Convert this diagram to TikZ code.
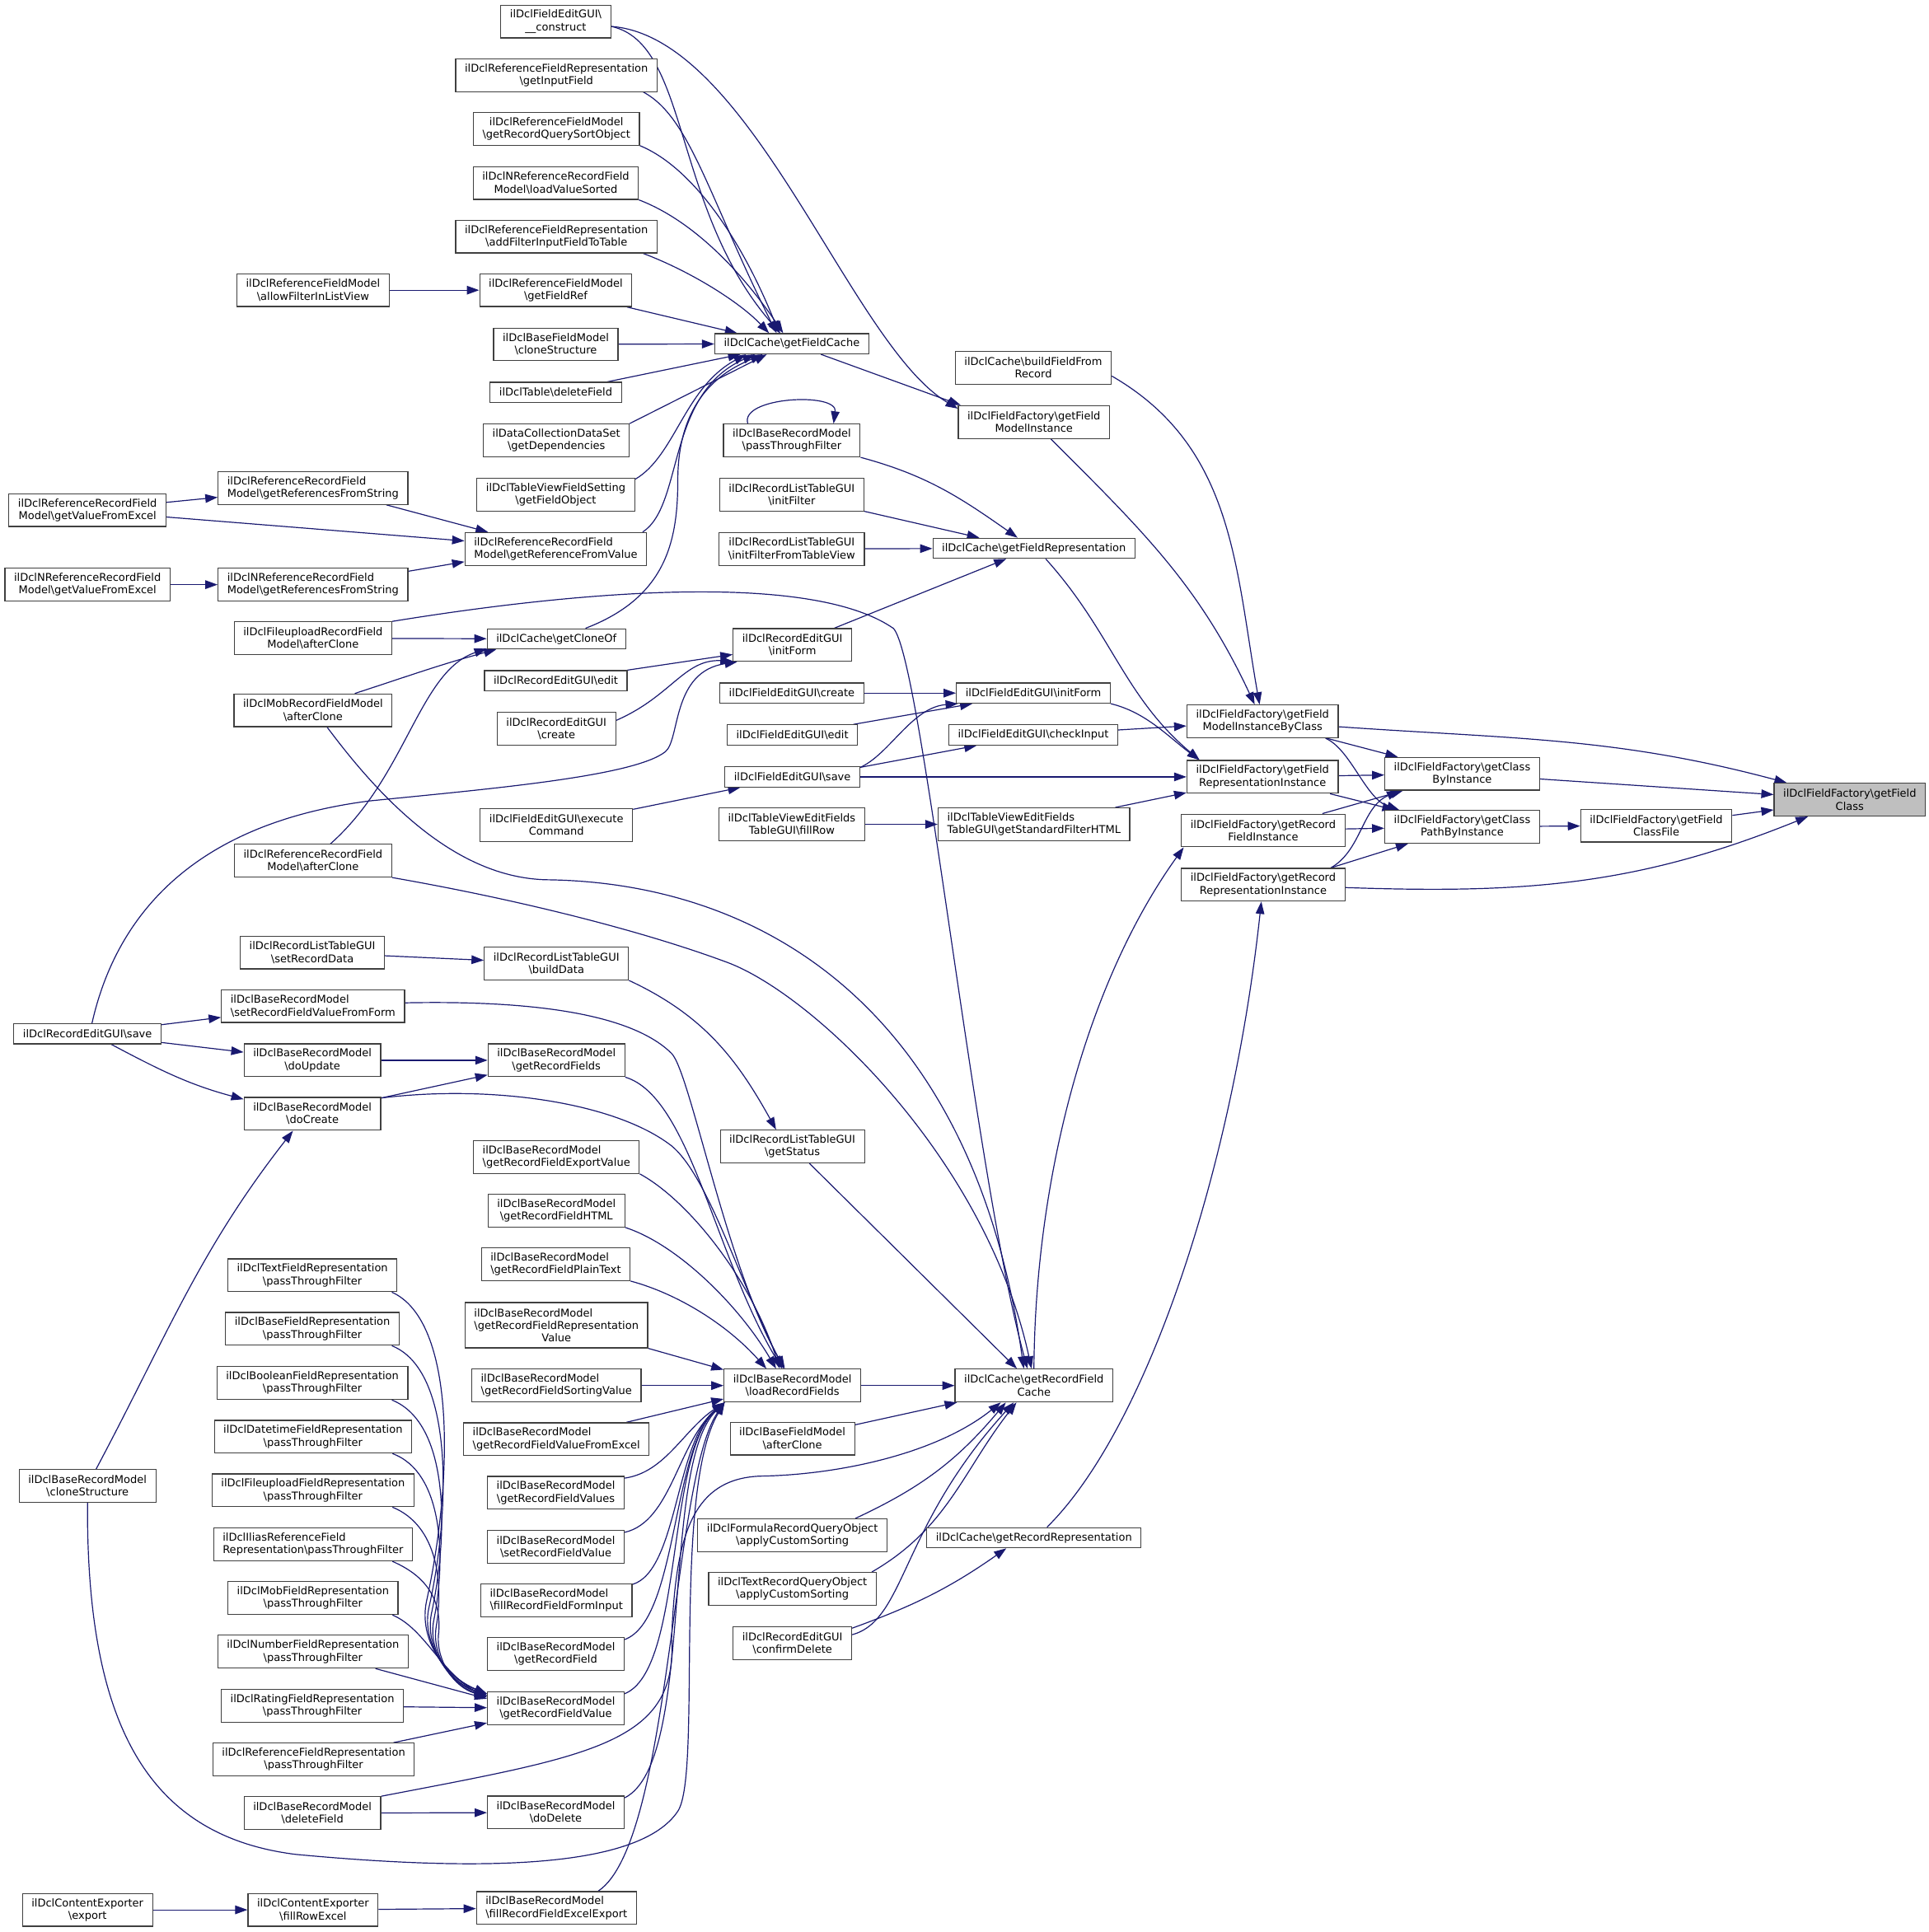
\documentclass[tikz,border=0pt]{standalone}
\usepackage{fontspec}
\setmainfont{DejaVu Sans}
\usetikzlibrary{arrows.meta,backgrounds}

\definecolor{edgeblue}{RGB}{25,25,112}
\definecolor{boxgray}{RGB}{64,64,64}
\definecolor{rootgray}{RGB}{191,191,191}
\newcommand*{\bs}{\textbackslash}

\begin{document}
\begin{tikzpicture}
[
	x=1pt, y=1pt,
	fn/.style={draw=boxgray,fill=white,line width=0.8pt,align=center,inner xsep=7.4pt,inner ysep=1pt,minimum height=26.6pt,font=\fontsize{8.7}{10.2}\selectfont},
	fnl/.style={fn,align=left},
	single/.style={minimum height=16.4pt},
	triple/.style={minimum height=36.8pt},
	root/.style={fn,fill=rootgray},
	call/.style={draw=edgeblue,line width=0.8pt,-{Triangle[length=10pt,width=7pt]}}
]
	\useasboundingbox (0,0) rectangle (1565,-1568);

	% callers of getFieldCache
	\node[fn] (fegConstruct) at (451,-17.5) {ilDclFieldEditGUI\bs\\\_\_construct};
	\node[fn] (rfrInput) at (451.5,-61) {ilDclReferenceFieldRepresentation\\\bs getInputField};
	\node[fn] (rfmSort) at (451.5,-104.5) {ilDclReferenceFieldModel\\\bs getRecordQuerySortObject};
	\node[fn] (nrrLoad) at (451,-148.5) {ilDclNReferenceRecordField\\Model\bs loadValueSorted};
	\node[fn] (rfrFilter) at (451.5,-192) {ilDclReferenceFieldRepresentation\\\bs addFilterInputFieldToTable};
	\node[fn] (rfmRef) at (451,-235.5) {ilDclReferenceFieldModel\\\bs getFieldRef};
	\node[fn] (rfmAllow) at (254,-235.5) {ilDclReferenceFieldModel\\\bs allowFilterInListView};
	\node[fn] (bfmClone) at (451,-279.5) {ilDclBaseFieldModel\\\bs cloneStructure};
	\node[fn,single] (tblDelete) at (451,-318.5) {ilDclTable\bs deleteField};
	\node[fn] (dcdsDeps) at (451.5,-357.5) {ilDataCollectionDataSet\\\bs getDependencies};
	\node[fn] (tvfsObj) at (451,-401.5) {ilDclTableViewFieldSetting\\\bs getFieldObject};
	\node[fnl] (rrfFromValue) at (451,-445.5) {ilDclReferenceRecordField\\Model\bs getReferenceFromValue};
	\node[fnl] (rrfFromString) at (254,-396) {ilDclReferenceRecordField\\Model\bs getReferencesFromString};
	\node[fn] (rrfExcel) at (71,-414) {ilDclReferenceRecordField\\Model\bs getValueFromExcel};
	\node[fnl] (nrrFromString) at (254,-474.5) {ilDclNReferenceRecordField\\Model\bs getReferencesFromString};
	\node[fn] (nrrExcel) at (71,-474.5) {ilDclNReferenceRecordField\\Model\bs getValueFromExcel};
	\node[fn] (furfClone) at (254,-518) {ilDclFileuploadRecordField\\Model\bs afterClone};
	\node[fn,single] (cacheCloneOf) at (451.5,-518.5) {ilDclCache\bs getCloneOf};
	\node[fn] (mobClone) at (254,-576.5) {ilDclMobRecordFieldModel\\\bs afterClone};
	\node[fn,single] (regEdit) at (451,-552.5) {ilDclRecordEditGUI\bs edit};
	\node[fn] (regCreate) at (451.5,-591.5) {ilDclRecordEditGUI\\\bs create};
	\node[fn] (fegExec) at (451.5,-669.5) {ilDclFieldEditGUI\bs execute\\Command};
	\node[fn] (rrfClone) at (254,-698.5) {ilDclReferenceRecordField\\Model\bs afterClone};

	% record model
	\node[fn] (rltSetData) at (253.5,-773) {ilDclRecordListTableGUI\\\bs setRecordData};
	\node[fn] (rltBuild) at (451.5,-782) {ilDclRecordListTableGUI\\\bs buildData};
	\node[fnl] (brmSetFromForm) at (254,-816.5) {ilDclBaseRecordModel\\\bs setRecordFieldValueFromForm};
	\node[fn,single] (regSave) at (71,-839) {ilDclRecordEditGUI\bs save};
	\node[fn] (brmUpdate) at (253.5,-860.5) {ilDclBaseRecordModel\\\bs doUpdate};
	\node[fn] (brmFields) at (451.5,-860.5) {ilDclBaseRecordModel\\\bs getRecordFields};
	\node[fn] (brmCreate) at (253.5,-904) {ilDclBaseRecordModel\\\bs doCreate};
	\node[fnl] (brmExport) at (451.5,-939) {ilDclBaseRecordModel\\\bs getRecordFieldExportValue};
	\node[fn] (brmHTML) at (451.5,-982.5) {ilDclBaseRecordModel\\\bs getRecordFieldHTML};
	\node[fnl] (brmPlain) at (451,-1026) {ilDclBaseRecordModel\\\bs getRecordFieldPlainText};
	\node[fn,triple] (brmReprValue) at (451.5,-1075.5) {\begin{tabular}[b]{@{}l@{}}ilDclBaseRecordModel\\\bs getRecordFieldRepresentation\end{tabular}\\Value};
	\node[fnl] (brmSorting) at (451.5,-1124.5) {ilDclBaseRecordModel\\\bs getRecordFieldSortingValue};
	\node[fnl] (brmValFromExcel) at (451.5,-1168) {ilDclBaseRecordModel\\\bs getRecordFieldValueFromExcel};
	\node[fn] (brmValues) at (451,-1211.5) {ilDclBaseRecordModel\\\bs getRecordFieldValues};
	\node[fn] (brmSetValue) at (451,-1255.5) {ilDclBaseRecordModel\\\bs setRecordFieldValue};
	\node[fnl] (brmFormInput) at (451.5,-1299) {ilDclBaseRecordModel\\\bs fillRecordFieldFormInput};
	\node[fn] (brmField) at (451,-1342.5) {ilDclBaseRecordModel\\\bs getRecordField};
	\node[fn] (brmValue) at (451,-1386.5) {ilDclBaseRecordModel\\\bs getRecordFieldValue};
	\node[fn] (brmDelete) at (451,-1471) {ilDclBaseRecordModel\\\bs doDelete};
	\node[fnl] (brmExcelExport) at (451.5,-1548.5) {ilDclBaseRecordModel\\\bs fillRecordFieldExcelExport};
	\node[fn] (brmCloneStr) at (71,-1206) {ilDclBaseRecordModel\\\bs cloneStructure};

	% passThroughFilter column
	\node[fn] (tfrPass) at (253.5,-1035) {ilDclTextFieldRepresentation\\\bs passThroughFilter};
	\node[fn] (bfrPass) at (253.5,-1078.5) {ilDclBaseFieldRepresentation\\\bs passThroughFilter};
	\node[fn] (boolPass) at (253.5,-1122.5) {ilDclBooleanFieldRepresentation\\\bs passThroughFilter};
	\node[fn] (dtPass) at (254,-1166) {ilDclDatetimeFieldRepresentation\\\bs passThroughFilter};
	\node[fn] (fuPass) at (254,-1209.5) {ilDclFileuploadFieldRepresentation\\\bs passThroughFilter};
	\node[fnl] (ilPass) at (254,-1253.5) {ilDclIliasReferenceField\\Representation\bs passThroughFilter};
	\node[fn] (mobPass) at (254,-1297) {ilDclMobFieldRepresentation\\\bs passThroughFilter};
	\node[fn] (numPass) at (254,-1340.5) {ilDclNumberFieldRepresentation\\\bs passThroughFilter};
	\node[fn] (ratPass) at (253.5,-1384.5) {ilDclRatingFieldRepresentation\\\bs passThroughFilter};
	\node[fn] (refPass) at (254.5,-1428) {ilDclReferenceFieldRepresentation\\\bs passThroughFilter};
	\node[fn] (brmDelField) at (253.5,-1471.5) {ilDclBaseRecordModel\\\bs deleteField};
	\node[fn] (ceFillRow) at (254,-1550) {ilDclContentExporter\\\bs fillRowExcel};
	\node[fn] (ceExport) at (71,-1550) {ilDclContentExporter\\\bs export};

	% middle column
	\node[fn,single] (cacheFieldCache) at (642.5,-279) {ilDclCache\bs getFieldCache};
	\node[fn] (brmPass) at (642.5,-357.5) {ilDclBaseRecordModel\\\bs passThroughFilter};
	\node[fn] (rltFilter) at (642.5,-401.5) {ilDclRecordListTableGUI\\\bs initFilter};
	\node[fn] (rltFilterTV) at (642.5,-445.5) {ilDclRecordListTableGUI\\\bs initFilterFromTableView};
	\node[fn] (regInitForm) at (643,-523.5) {ilDclRecordEditGUI\\\bs initForm};
	\node[fn,single] (fegCreate) at (642.5,-562.5) {ilDclFieldEditGUI\bs create};
	\node[fn,single] (fegEdit) at (643,-596.5) {ilDclFieldEditGUI\bs edit};
	\node[fn,single] (fegSave) at (643,-630.5) {ilDclFieldEditGUI\bs save};
	\node[fn] (tvefFillRow) at (642.5,-669) {ilDclTableViewEditFields\\TableGUI\bs fillRow};
	\node[fn] (rltStatus) at (643,-930.5) {ilDclRecordListTableGUI\\\bs getStatus};
	\node[fn] (brmLoad) at (643,-1124.5) {ilDclBaseRecordModel\\\bs loadRecordFields};
	\node[fn] (bfmAfterClone) at (643,-1167.5) {ilDclBaseFieldModel\\\bs afterClone};
	\node[fn] (frqoSort) at (643,-1246) {ilDclFormulaRecordQueryObject\\\bs applyCustomSorting};
	\node[fn] (trqoSort) at (643,-1289.5) {ilDclTextRecordQueryObject\\\bs applyCustomSorting};
	\node[fn] (regConfirm) at (643,-1333.5) {ilDclRecordEditGUI\\\bs confirmDelete};

	% cache and factory
	\node[fn] (cacheBuild) at (838.5,-298.5) {ilDclCache\bs buildFieldFrom\\Record};
	\node[fn] (ffModelInst) at (839,-342.5) {ilDclFieldFactory\bs getField\\ModelInstance};
	\node[fn,single] (cacheFieldRepr) at (839,-445) {ilDclCache\bs getFieldRepresentation};
	\node[fn,single] (fegInitForm) at (838.5,-562.5) {ilDclFieldEditGUI\bs initForm};
	\node[fn,single] (fegCheck) at (838.5,-596.5) {ilDclFieldEditGUI\bs checkInput};
	\node[fnl] (tvefFilterHTML) at (839,-669) {ilDclTableViewEditFields\\TableGUI\bs getStandardFilterHTML};
	\node[fn] (cacheRecFieldCache) at (839,-1124.5) {ilDclCache\bs getRecordField\\Cache};
	\node[fn,single] (cacheRecRepr) at (839,-1248) {ilDclCache\bs getRecordRepresentation};

	\node[fn] (ffModelByClass) at (1024.5,-585.5) {ilDclFieldFactory\bs getField\\ModelInstanceByClass};
	\node[fn] (ffFieldRepr) at (1024.5,-630.5) {ilDclFieldFactory\bs getField\\RepresentationInstance};
	\node[fn] (ffRecField) at (1025,-674) {ilDclFieldFactory\bs getRecord\\FieldInstance};
	\node[fn] (ffRecRepr) at (1025,-718) {ilDclFieldFactory\bs getRecord\\RepresentationInstance};
	\node[fn] (ffClassByInst) at (1186.5,-628) {ilDclFieldFactory\bs getClass\\ByInstance};
	\node[fn] (ffClassPath) at (1186.5,-671) {ilDclFieldFactory\bs getClass\\PathByInstance};
	\node[fn] (ffClassFile) at (1344,-670) {ilDclFieldFactory\bs getField\\ClassFile};
	\node[root] (ffFieldClass) at (1501,-649) {ilDclFieldFactory\bs getField\\Class};

	\begin{pgfonlayer}{background}
	% into getFieldClass
	\draw[call] (ffModelByClass) to[out=-4,in=165] (ffFieldClass);
	\draw[call] (ffClassByInst) -- (ffFieldClass);
	\draw[call] (ffClassFile) -- (ffFieldClass);
	\draw[call] (ffRecRepr) to[out=-2,in=-158] (ffFieldClass);
	\draw[call] (ffClassPath) -- (ffClassFile);

	% getClassByInstance, getClassPathByInstance
	\draw[call] (ffModelByClass) -- (ffClassByInst);
	\draw[call] (ffFieldRepr) -- (ffClassByInst);
	\draw[call] (ffRecField) -- (ffClassByInst);
	\draw[call] (ffRecRepr.14) .. controls (1105,-690) and (1105,-655) .. (ffClassByInst.-165);
	\draw[call] (ffModelByClass.-15) .. controls (1096,-608) and (1108,-648) .. (ffClassPath.165);
	\draw[call] (ffFieldRepr) -- (ffClassPath);
	\draw[call] (ffRecField) -- (ffClassPath);
	\draw[call] (ffRecRepr.14) -- (ffClassPath);

	% factory instances
	\draw[call] (ffModelInst) to[out=-45,in=115] (ffModelByClass);
	\draw[call] (cacheBuild.-6) to[out=-30,in=100] (ffModelByClass);
	\draw[call] (fegCheck) -- (ffModelByClass);
	\draw[call] (cacheFieldRepr.-42) to[out=-48,in=140] (ffFieldRepr.165);
	\draw[call] (fegInitForm.south east) .. controls (930,-578) and (948,-598) .. (ffFieldRepr.165);
	\draw[call] (fegSave) -- (ffFieldRepr);
	\draw[call] (tvefFilterHTML) -- (ffFieldRepr);
	\draw[call] (cacheRecFieldCache.north) .. controls (840,-960) and (880,-800) .. (ffRecField.-168);
	\draw[call] (cacheRecRepr.39) .. controls (930,-1160) and (1000,-950) .. (ffRecRepr);

	% getFieldModelInstance, getFieldRepresentation
	\draw[call] (cacheFieldCache) -- (ffModelInst.167);
	\draw[call] (fegConstruct.-5) .. controls (610,-30) and (690,-280) .. (ffModelInst.170);
	\draw[call] (brmPass.south east) to[out=-15,in=145] (cacheFieldRepr.147);
	\draw[call] (rltFilter) -- (cacheFieldRepr.169);
	\draw[call] (rltFilterTV) -- (cacheFieldRepr);
	\draw[call] (regInitForm) -- (cacheFieldRepr.-159);

	% field edit gui
	\draw[call] (fegCreate) -- (fegInitForm);
	\draw[call] (fegEdit) -- (fegInitForm);
	\draw[call] (fegSave.8) .. controls (722,-612) and (740,-574) .. (fegInitForm.-172);
	\draw[call] (fegSave.8) -- (fegCheck);
	\draw[call] (tvefFillRow) -- (tvefFilterHTML);
	\draw[call] (fegExec) -- (fegSave);

	% into getRecordFieldCache
	\draw[call] (brmLoad) -- (cacheRecFieldCache);
	\draw[call] (bfmAfterClone) -- (cacheRecFieldCache);
	\draw[call] (frqoSort.15) to[out=25,in=-130] (cacheRecFieldCache.-149);
	\draw[call] (trqoSort.12) to[out=30,in=-128] (cacheRecFieldCache.-136);
	\draw[call] (regConfirm.8) .. controls (735,-1315) and (730,-1240) .. (cacheRecFieldCache.-140);
	\draw[call] (rltStatus) -- (cacheRecFieldCache);
	\draw[call] (brmDelField.north east) .. controls (480,-1425) and (550,-1415) .. (545,-1330)
	  .. controls (548,-1250) and (560,-1200) .. (617,-1198)
	  .. controls (680,-1197) and (760,-1180) .. (cacheRecFieldCache.-153);
	\draw[call] (furfClone.north east) .. controls (480,-478) and (660,-465) .. (725,-510)
	  .. controls (748,-535) and (790,-950) .. (cacheRecFieldCache.111);
	\draw[call] (mobClone.-50) .. controls (310,-650) and (370,-712) .. (443,-714)
	  .. controls (620,-716) and (790,-820) .. (cacheRecFieldCache.121);
	\draw[call] (rrfClone.south east) .. controls (420,-730) and (520,-755) .. (590,-781)
	  .. controls (660,-807) and (800,-940) .. (cacheRecFieldCache.98);
	\draw[call] (regConfirm.14) to[out=20,in=-145] (cacheRecRepr.-159);

	% into getFieldCache
	\draw[call] (fegConstruct.-5) .. controls (560,-35) and (545,-170) .. (cacheFieldCache.137);
	\draw[call] (rfrInput.-11) .. controls (560,-95) and (575,-160) .. (cacheFieldCache.145);
	\draw[call] (rfmSort.south east) .. controls (560,-135) and (600,-190) .. (cacheFieldCache.140);
	\draw[call] (nrrLoad.south east) .. controls (565,-180) and (605,-225) .. (cacheFieldCache.129);
	\draw[call] (rfrFilter.-11) .. controls (560,-220) and (600,-245) .. (cacheFieldCache.155);
	\draw[call] (rfmRef) -- (cacheFieldCache.169);
	\draw[call] (bfmClone) -- (cacheFieldCache);
	\draw[call] (tblDelete) -- (cacheFieldCache);
	\draw[call] (dcdsDeps.13) -- (cacheFieldCache.-157);
	\draw[call] (tvfsObj.11) .. controls (548,-370) and (555,-315) .. (cacheFieldCache.-167);
	\draw[call] (rrfFromValue.11) .. controls (555,-410) and (540,-320) .. (cacheFieldCache.-164);
	\draw[call] (cacheCloneOf.20) .. controls (540,-485) and (550,-440) .. (550,-390)
	  .. controls (550,-320) and (590,-300) .. (cacheFieldCache.-160);
	\draw[call] (brmPass.159) .. controls (600,-322) and (680,-318) .. (brmPass.22);

	% record edit gui
	\draw[call] (regEdit) -- (regInitForm.-171);
	\draw[call] (regCreate.8) .. controls (545,-565) and (555,-535) .. (regInitForm.-165);
	\draw[call] (regSave.67) .. controls (95,-740) and (160,-668) .. (300,-650)
	  .. controls (400,-640) and (515,-630) .. (540,-610)
	  .. controls (552,-600) and (545,-545) .. (regInitForm.-163);
	\draw[call] (furfClone) -- (cacheCloneOf);
	\draw[call] (mobClone.22) to[out=18,in=-165] (cacheCloneOf.-170);
	\draw[call] (rrfClone.44) .. controls (330,-630) and (340,-545) .. (cacheCloneOf.-172);
	\draw[call] (rfmAllow) -- (rfmRef);
	\draw[call] (rrfExcel) -- (rrfFromString);
	\draw[call] (rrfFromString.-13) -- (rrfFromValue.166);
	\draw[call] (rrfExcel.-5) -- (rrfFromValue.175);
	\draw[call] (nrrFromString.8) -- (rrfFromValue.-172);
	\draw[call] (nrrExcel) -- (nrrFromString);

	% record model calls
	\draw[call] (rltSetData) -- (rltBuild);
	\draw[call] (rltBuild.south east) to[out=-25,in=119] (rltStatus.134);
	\draw[call] (regSave) -- (brmSetFromForm);
	\draw[call] (regSave) -- (brmUpdate);
	\draw[call] (regSave.-24) to[out=-28,in=165] (brmCreate.168);
	\draw[call] (brmUpdate) -- (brmFields);
	\draw[call] (brmCreate.13) -- (brmFields.-168);
	\draw[call] (brmCloneStr.63) to[out=62,in=-128] (brmCreate.-139);

	% into loadRecordFields
	\draw[call] (brmSetFromForm.2) .. controls (420,-812) and (510,-820) .. (545,-855)
	  .. controls (560,-870) and (590,-1030) .. (brmLoad.114);
	\draw[call] (brmCreate.13) .. controls (400,-880) and (500,-895) .. (545,-930)
	  .. controls (575,-955) and (600,-1040) .. (brmLoad.117);
	\draw[call] (brmFields.south east) .. controls (560,-890) and (580,-1020) .. (brmLoad.121);
	\draw[call] (brmExport.south east) .. controls (560,-975) and (610,-1040) .. (brmLoad.127);
	\draw[call] (brmHTML.south east) .. controls (550,-1010) and (600,-1060) .. (brmLoad.134);
	\draw[call] (brmPlain.south east) .. controls (550,-1050) and (590,-1075) .. (brmLoad.147);
	\draw[call] (brmReprValue.south east) -- (brmLoad.167);
	\draw[call] (brmSorting) -- (brmLoad);
	\draw[call] (brmValFromExcel) -- (brmLoad.-169);
	\draw[call] (brmValues.12) .. controls (540,-1195) and (555,-1160) .. (brmLoad.-166);
	\draw[call] (brmSetValue.12) .. controls (545,-1235) and (550,-1170) .. (brmLoad.-166);
	\draw[call] (brmFormInput.12) .. controls (550,-1275) and (548,-1170) .. (brmLoad.-166);
	\draw[call] (brmField.12) .. controls (550,-1315) and (545,-1175) .. (brmLoad.-166);
	\draw[call] (brmValue.12) .. controls (555,-1355) and (540,-1180) .. (brmLoad.-166);
	\draw[call] (brmDelete.12) .. controls (565,-1430) and (535,-1190) .. (brmLoad.-166);
	\draw[call] (brmExcelExport.22) .. controls (545,-1495) and (545,-1200) .. (brmLoad.-166);
	\draw[call] (brmCloneStr.south) .. controls (70,-1400) and (120,-1490) .. (240,-1505)
	  .. controls (400,-1520) and (520,-1515) .. (550,-1470)
	  .. controls (570,-1440) and (545,-1210) .. (brmLoad.-166);

	% into getRecordFieldValue
	\draw[call] (tfrPass.-12) .. controls (370,-1072) and (368,-1200) .. (346,-1300)
	  .. controls (340,-1330) and (360,-1360) .. (brmValue.168);
	\draw[call] (bfrPass.-12) .. controls (368,-1112) and (366,-1225) .. (348,-1305)
	  .. controls (342,-1333) and (362,-1362) .. (brmValue.168);
	\draw[call] (boolPass.-12) .. controls (365,-1155) and (364,-1245) .. (350,-1310)
	  .. controls (345,-1337) and (363,-1364) .. (brmValue.169);
	\draw[call] (dtPass.-12) .. controls (360,-1195) and (362,-1265) .. (352,-1315)
	  .. controls (347,-1340) and (365,-1366) .. (brmValue.169);
	\draw[call] (fuPass.-12) .. controls (355,-1238) and (360,-1285) .. (354,-1320)
	  .. controls (350,-1344) and (367,-1368) .. (brmValue.170);
	\draw[call] (ilPass.-12) .. controls (348,-1280) and (358,-1300) .. (356,-1325)
	  .. controls (353,-1347) and (369,-1370) .. (brmValue.170);
	\draw[call] (mobPass.-12) .. controls (345,-1322) and (358,-1358) .. (brmValue.171);
	\draw[call] (numPass) -- (brmValue.172);
	\draw[call] (ratPass) -- (brmValue);
	\draw[call] (refPass) -- (brmValue);

	% delete and export
	\draw[call] (brmDelField) -- (brmDelete);
	\draw[call] (ceFillRow) -- (brmExcelExport);
	\draw[call] (ceExport) -- (ceFillRow);
	\end{pgfonlayer}

\end{tikzpicture}
\end{document}
